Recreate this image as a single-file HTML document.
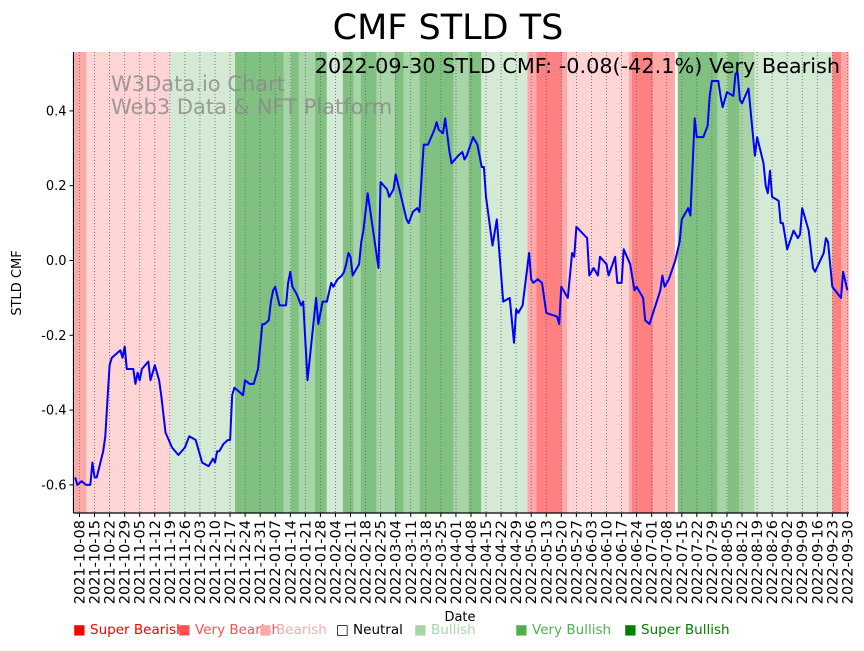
<!DOCTYPE html>
<html><head><meta charset="utf-8">
<style>
body{margin:0;background:#fff;width:864px;height:646px;overflow:hidden;font-family:"Liberation Sans","DejaVu Sans",sans-serif;}
svg text{font-family:"DejaVu Sans","Liberation Sans",sans-serif;}
</style></head>
<body>
<svg id="chart" width="864" height="646" xmlns="http://www.w3.org/2000/svg">
<text x="448" y="39" font-size="35" text-anchor="middle">CMF STLD TS</text>
<g id="bands"></g>
<g id="grid"></g>
<g id="wm">
<text x="111" y="91" font-size="21" fill="#888" fill-opacity="0.8">W3Data.io Chart</text>
<text x="111" y="114" font-size="21" fill="#888" fill-opacity="0.8">Web3 Data &amp; NFT Platform</text>
</g>
<text x="840" y="73" font-size="20.8" text-anchor="end">2022-09-30 STLD CMF: -0.08(-42.1%) Very Bearish</text>
<path id="line" fill="none" stroke="#0000ff" stroke-width="2" stroke-linejoin="round"/>
<g id="axes"></g>
<text transform="translate(21,283) rotate(-90)" font-size="13" text-anchor="middle">STLD CMF</text>
<text x="460" y="621" font-size="13" text-anchor="middle">Date</text>
<g font-size="13.5">
<g><text x="73" y="634" fill="#ff0000">■ Super Bearish</text></g>
<g><text x="178" y="634" fill="#ff5050">■ Very Bearish</text></g>
<g><text x="259" y="634" fill="#ffaaaa">■ Bearish</text></g>
<g><text x="336" y="634" fill="#000">□ Neutral</text></g>
<g><text x="414" y="634" fill="#a8d5a8">■ Bullish</text></g>
<g><text x="515" y="634" fill="#50b050">■ Very Bullish</text></g>
<g><text x="624" y="634" fill="#008000">■ Super Bullish</text></g>
</g>
</svg>
<script>
// day offsets from 2021-10-08
const days = [-2,-1,1,3,5,6,7,8,11,12,13,14,15,17,19,20,21,22,25,26,27,28,29,32,33,35,37,38,40,43,46,49,51,54,57,60,62,63,64,65,67,69,70,71,72,74,76,77,79,81,83,84,85,86,88,89,90,91,93,96,97,98,99,101,103,104,106,108,110,111,113,115,117,118,120,122,123,124,125,126,127,128,130,131,132,134,137,139,140,143,144,146,147,150,152,153,155,157,158,160,162,165,166,167,169,170,172,173,176,178,179,180,183,185,187,188,189,192,194,197,200,202,203,204,206,209,210,211,213,215,217,222,223,224,227,229,230,231,236,237,239,241,242,245,246,249,250,252,253,256,258,259,262,263,265,270,271,272,274,277,279,280,283,284,286,287,290,292,293,294,297,298,299,301,304,305,306,307,308,311,314,315,318,319,320,321,322,325,326,327,329,332,334,335,336,339,341,342,346,347,348,350,354,355,357];
const cmf = [-0.58,-0.60,-0.59,-0.60,-0.60,-0.54,-0.58,-0.58,-0.51,-0.47,-0.37,-0.28,-0.26,-0.25,-0.24,-0.26,-0.23,-0.29,-0.29,-0.33,-0.30,-0.32,-0.29,-0.27,-0.32,-0.28,-0.32,-0.36,-0.46,-0.50,-0.52,-0.50,-0.47,-0.48,-0.54,-0.55,-0.53,-0.54,-0.51,-0.51,-0.49,-0.48,-0.48,-0.36,-0.34,-0.35,-0.36,-0.32,-0.33,-0.33,-0.29,-0.23,-0.17,-0.17,-0.16,-0.11,-0.08,-0.07,-0.12,-0.12,-0.06,-0.03,-0.07,-0.09,-0.12,-0.11,-0.32,-0.21,-0.10,-0.17,-0.11,-0.11,-0.06,-0.07,-0.05,-0.04,-0.03,-0.01,0.02,0.01,-0.04,-0.03,-0.01,0.05,0.08,0.18,0.06,-0.02,0.21,0.19,0.17,0.19,0.23,0.16,0.11,0.10,0.13,0.14,0.13,0.31,0.31,0.35,0.37,0.35,0.34,0.38,0.29,0.26,0.28,0.29,0.27,0.28,0.33,0.31,0.25,0.25,0.17,0.04,0.11,-0.11,-0.10,-0.22,-0.13,-0.14,-0.12,0.02,-0.05,-0.06,-0.05,-0.06,-0.14,-0.15,-0.17,-0.07,-0.10,0.02,0.01,0.09,0.06,-0.04,-0.02,-0.04,0.01,-0.01,-0.04,0.01,-0.06,-0.06,0.03,-0.01,-0.08,-0.07,-0.10,-0.16,-0.17,-0.08,-0.04,-0.07,-0.05,0.00,0.05,0.11,0.14,0.12,0.38,0.33,0.33,0.36,0.44,0.48,0.48,0.44,0.41,0.45,0.44,0.50,0.50,0.43,0.42,0.46,0.28,0.33,0.26,0.20,0.18,0.24,0.17,0.16,0.10,0.10,0.03,0.08,0.06,0.07,0.14,0.08,-0.02,-0.03,0.02,0.06,0.05,-0.07,-0.10,-0.03,-0.08];
// signal bands: start day, end day, category
const bandStart = [-2.3,3.2,42.2,72.3,95,98.3,102,109.4,115,122.4,127.5,130.7,138.2,146.5,150.7,158.1,173.9,180.8,186.8,208.2,212.3,224.4,226.7,255.4,256.8,266.6,278.1,296.7,301.3,306.9,313.9,350,354.2];
const bandEnd   = [3.2,42.2,72.3,95,98.3,102,109.4,115,122.4,127.5,130.7,138.2,146.5,150.7,158.1,173.9,180.8,186.8,208.2,212.3,224.4,226.7,255.4,256.8,266.6,276.8,296.7,301.3,306.9,313.9,350,354.2,357.6];
const bandCat   = ["vbear","bear","bull","sbull","vbull","sbull","vbull","sbull","bull","sbull","vbull","sbull","vbull","sbull","vbull","sbull","vbull","sbull","bull","vbear","sbear","vbear","bear","vbear","sbear","vbear","sbull","vbull","sbull","vbull","bull","sbear","vbear"];
const yTicks = [-0.6,-0.4,-0.2,0.0,0.2,0.4];

const catColor = {sbear:"#ff8080",vbear:"#ffa8a8",bear:"#ffd4d4",bull:"#d4ead4",vbull:"#a8d5a8",sbull:"#80c080"};
const NS="http://www.w3.org/2000/svg";
const L=73.5,R=849,T=52,B=513;
function xs(d){return 79.5+d*2.151;}
function ys(v){return 260.5-v*374;}
function mk(tag,attrs,parent){const e=document.createElementNS(NS,tag);for(const k in attrs)e.setAttribute(k,attrs[k]);parent.appendChild(e);return e;}

const bands=document.getElementById('bands');
for(let i=0;i<bandStart.length;i++){
  const x1=Math.max(L,xs(bandStart[i])),x2=Math.min(R,xs(bandEnd[i]));
  const r=mk('rect',{x:x1,y:T,width:Math.max(0,x2-x1),height:B-T,fill:catColor[bandCat[i]]},bands);
  
  
}
const grid=document.getElementById('grid'), axes=document.getElementById('axes');
const start=new Date(Date.UTC(2021,9,8));
for(let w=0;w<=51;w++){
  const x=xs(w*7);
  const g=mk('line',{x1:x,x2:x,y1:T,y2:B,stroke:'#666','stroke-width':0.8,'stroke-dasharray':'1,2'},grid);
  
  
  mk('line',{x1:x,x2:x,y1:B,y2:B+4,stroke:'#000','stroke-width':1},axes);
  const d=new Date(start.getTime()+w*7*86400000);
  const lbl=d.toISOString().slice(0,10);
  const t=mk('text',{transform:`translate(${x+5},${B+7}) rotate(-90)`,'font-size':14.5,'text-anchor':'end'},axes);
  t.textContent=lbl;
  
  
}
yTicks.forEach(v=>{
  const y=ys(v);
  mk('line',{x1:L-4,x2:L,y1:y,y2:y,stroke:'#000','stroke-width':1},axes);
  const t=mk('text',{x:L-7,y:y+4.5,'font-size':13,'text-anchor':'end'},axes);
  t.textContent=v.toFixed(1);
  
  
});
mk('line',{x1:L,x2:L,y1:T,y2:B,stroke:'#000','stroke-width':1.2},axes);
mk('line',{x1:L,x2:R,y1:B,y2:B,stroke:'#000','stroke-width':1.2},axes);
let d='';
for(let i=0;i<days.length;i++){d+=(i?'L':'M')+xs(Math.max(days[i],-2.3)).toFixed(1)+','+ys(cmf[i]).toFixed(1);}
document.getElementById('line').setAttribute('d',d);
</script>
</body></html>
